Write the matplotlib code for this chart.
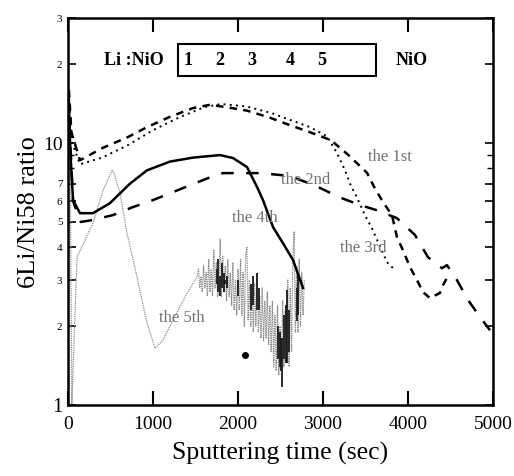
import matplotlib
matplotlib.use("Agg")
import matplotlib.pyplot as plt
from matplotlib.patches import Rectangle

plt.rcParams['font.family'] = ['Liberation Serif', 'DejaVu Serif']

# ---- data ----
t1 = [10, 40, 141, 412, 694, 929, 1200, 1470, 1670, 1870, 2106, 2376, 2612, 2847,
      3047, 3118, 3300, 3518, 3612, 3706, 3812, 3870, 3941, 4024, 4106, 4176, 4259,
      4376, 4412, 4470]
r1 = [16, 11, 8.6, 9.6, 10.5, 11.5, 12.6, 13.6, 14.0, 13.7, 13.3, 12.5, 11.7, 11.0,
      10.4, 10.1, 9.0, 7.7, 6.7, 5.96, 5.3, 4.38, 3.9, 3.36, 3.0, 2.7, 2.56,
      2.68, 2.87, 3.1]

t2 = [15, 60, 150, 282, 529, 765, 1000, 1235, 1435, 1647, 1824, 2259, 2600, 2900,
      3200, 3435, 3635, 3870, 4082, 4235, 4400, 4459, 4576, 4706, 4847, 4965]
r2 = [12, 6.0, 5.0, 5.08, 5.31, 5.7, 6.06, 6.5, 6.9, 7.35, 7.68, 7.68, 7.5, 6.9,
      6.2, 5.8, 5.54, 5.17, 4.46, 3.67, 3.33, 3.42, 3.0, 2.52, 2.17, 1.93]

t3 = [15, 50, 141, 400, 700, 1000, 1300, 1600, 1800, 2100, 2400, 2600, 2850, 3050,
      3165, 3259, 3318, 3400, 3494, 3576, 3753, 3824]
r3 = [14, 10, 8.3, 8.8, 9.8, 11.2, 12.5, 13.7, 14.1, 13.8, 13.0, 12.3, 11.5, 10.6,
      9.15, 7.87, 7.0, 6.2, 5.3, 4.73, 3.51, 3.33]

t4 = [5, 30, 59, 141, 294, 494, 729, 929, 1200, 1470, 1788, 1941, 2106, 2224, 2294,
      2412, 2529, 2647, 2765]
r4 = [15, 9, 6.06, 5.4, 5.4, 5.9, 7.0, 7.87, 8.5, 8.8, 9.0, 8.77, 8.1, 6.8, 6.06,
      4.78, 4.15, 3.58, 2.8]

t5 = [20, 45, 106, 294, 412, 518, 540, 612, 694, 812, 929, 1024, 1118, 1235, 1400,
      1518, 1535, 1550, 1565, 1580, 1595, 1610, 1625, 1640, 1655, 1670, 1685, 1700,
      1715, 1730, 1745, 1760, 1775, 1790, 1805, 1820, 1835, 1850, 1865, 1880, 1895,
      1910, 1925, 1940, 1955, 1970, 1985, 2000, 2015, 2030, 2045, 2060, 2075, 2090,
      2105, 2120, 2135, 2150, 2165, 2180, 2195, 2210, 2225, 2240, 2255, 2270, 2285,
      2300, 2315, 2330, 2345, 2360, 2375, 2390, 2405, 2420, 2435, 2450, 2465, 2480,
      2495, 2510, 2525, 2540, 2555, 2570, 2585, 2600, 2615, 2630, 2645, 2660, 2675,
      2690, 2705, 2720, 2735, 2750, 2765, 2780]
r5 = [15, 1.0, 3.67, 4.95, 6.6, 7.87, 7.7, 6.45, 4.53, 3.08, 2.06, 1.65, 1.77, 2.11, 2.67,
      3.08, 3.3, 2.8, 3.1, 2.7, 3.4, 2.8, 3.2, 2.6, 3.6, 2.7, 3.3, 2.6,
      3.9, 2.8, 3.5, 2.6, 2.7, 4.3, 2.6, 3.7, 2.7, 3.4, 2.5, 3.6, 2.6,
      3.2, 2.4, 3.5, 2.3, 3.0, 2.2, 3.3, 2.3, 3.6, 2.2, 3.2, 2.0, 3.7,
      4.0, 2.1, 3.0, 2.0, 2.8, 1.9, 2.9, 2.0, 3.2, 1.9, 2.6, 1.8, 2.8,
      1.75, 2.5, 1.8, 2.7, 1.7, 2.4, 1.6, 2.5, 1.4, 2.2, 1.35, 2.4, 1.3,
      2.0, 1.4, 2.5, 1.4, 2.3, 1.5, 3.0, 1.4, 2.8, 1.6, 3.6, 4.6, 1.9,
      3.4, 1.9, 3.6, 2.0, 3.2, 2.2, 3.0]

dark_t  = [1750, 1770, 1790, 1810, 1830, 1850, 1870, 2000, 2150, 2180, 2224, 2250,
           2470, 2490, 2505, 2518, 2540, 2560, 2576, 2600, 2694, 2705]
dark_lo = [2.9, 2.7, 2.6, 2.8, 2.7, 2.9, 2.8, 2.6, 2.3, 2.4, 2.3, 2.3,
           1.5, 1.4, 1.35, 1.17, 1.5, 1.45, 1.45, 1.6, 2.1, 2.2]
dark_hi = [3.3, 3.6, 3.1, 3.5, 3.2, 3.0, 3.1, 3.0, 2.9, 3.1, 3.2, 2.8,
           2.0, 1.9, 1.8, 1.8, 2.2, 2.4, 2.75, 2.3, 2.8, 3.1]

dot_t, dot_r = [2082], [1.55]

xticks = [0, 1000, 2000, 3000, 4000, 5000]
yticks = [1, 2, 3, 4, 5, 6, 7, 10, 20, 30]
ytick_labels = ['1', '2', '3', '4', '5', '6', '7', '10', '2', '3']
ytick_sizes = [15, 8, 8, 8, 8, 8, 8, 14, 8, 8]

box_nums = ['1', '2', '3', '4', '5']
box_num_t = [1412, 1788, 2165, 2612, 2988]

curve_labels = ['the 1st', 'the 2nd', 'the 3rd', 'the 4th', 'the 5th']
curve_label_t = [3788, 2800, 3470, 2200, 1341]
curve_label_r = [8.83, 7.23, 3.97, 5.17, 2.15]

# ---- figure ----
fig = plt.figure(figsize=(5.14, 4.76), dpi=100)
ax = fig.add_axes([0.1323, 0.149, 0.8268, 0.813])
ax.set_yscale('log')
ax.set_xlim(0, 5000)
ax.set_ylim(1, 30)

ax.plot(t5, r5, color='0.55', lw=0.9, ls=(0, (1, 0.8)), zorder=2)
ax.vlines(dark_t, dark_lo, dark_hi, color='0.1', lw=1.3, zorder=3)
ax.plot(dot_t, dot_r, 'o', color='k', ms=4, zorder=4)
ax.plot(t3, r3, color='k', lw=1.4, ls=(0, (1, 2.2)), zorder=3)
ax.plot(t1, r1, color='k', lw=1.8, ls=(0, (3, 2.5)), zorder=3)
ax.plot(t2, r2, color='k', lw=1.8, ls=(0, (5, 5)), zorder=3)
ax.plot(t4, r4, color='k', lw=1.8, ls='-', zorder=3)

for s, x, y in zip(curve_labels, curve_label_t, curve_label_r):
    ax.text(x, y, s, fontsize=12, color='0.45', ha='center', va='center', zorder=5)

# composition box
ax.add_patch(Rectangle((1294, 18.0), 3624 - 1294, 23.9 - 18.0, fill=False,
                       lw=1.5, ec='k', zorder=5))
for s, x in zip(box_nums, box_num_t):
    ax.text(x, 20.6, s, fontsize=13, fontweight='bold', ha='center', va='center')
ax.text(770, 20.6, 'Li :NiO', fontsize=13, fontweight='bold', ha='center', va='center')
ax.text(4047, 20.6, 'NiO', fontsize=13, fontweight='bold', ha='center', va='center')

# axes styling
for sp in ax.spines.values():
    sp.set_linewidth(1.8)
ax.set_xticks(xticks)
ax.set_xticklabels([str(v) for v in xticks], fontsize=14)
ax.set_yticks(yticks)
ax.set_yticklabels(ytick_labels)
ax.yaxis.set_minor_locator(matplotlib.ticker.LogLocator(subs=[8, 9]))
ax.yaxis.set_minor_formatter(matplotlib.ticker.NullFormatter())
for lab, sz in zip(ax.get_yticklabels(), ytick_sizes):
    lab.set_fontsize(sz)
ax.tick_params(axis='both', which='both', direction='in', top=True, right=True)
ax.tick_params(axis='x', which='major', length=10, width=1.5, pad=8)
ax.tick_params(axis='y', which='major', length=6, width=1.2, pad=4)
ax.tick_params(axis='y', which='minor', length=4, width=1.0)

ax.set_xlabel('Sputtering time (sec)', fontsize=18.5, labelpad=6)
ax.set_ylabel('6Li/Ni58 ratio', fontsize=19, labelpad=2)

fig.savefig('out.png', dpi=100)
